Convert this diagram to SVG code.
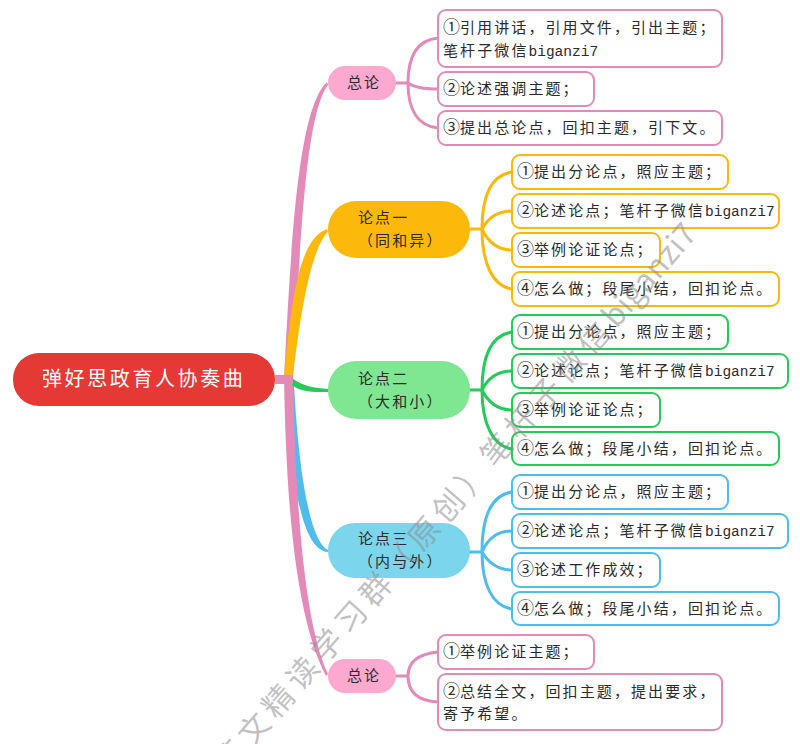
<svg xmlns="http://www.w3.org/2000/svg" width="800" height="744" viewBox="0 0 800 744">
<style>
text{font-family:"Liberation Mono","Noto Sans CJK SC",sans-serif;font-size:15px;letter-spacing:2.1px;fill:#2b2b2b}
.m{letter-spacing:0;font-size:14.5px}
.n{font-size:17px;letter-spacing:0}
.b{fill:#fff;stroke-width:2}
.pk{stroke:#e48ab9}.yl{stroke:#fdb90b}.gn{stroke:#25cb58}.bl{stroke:#4fbcee}
.c{fill:none;stroke-width:3;stroke-linecap:round}
.root{font-size:20px;letter-spacing:2.6px;fill:#fff}
.wm{font-size:31px;letter-spacing:6px;fill:#8c8c8c;fill-opacity:.55;font-family:"Noto Sans CJK SC",sans-serif;font-weight:400}
.wm tspan{letter-spacing:.5px}
</style>
<g id="connectors">
<path fill="#4fbcee" d="M294,384C298,460 308,540 328,550L328,552C300,550 290,470 286,384Z"/>
<path fill="#e48ab9" d="M284,378C291,250 297,110 327,82L328,85C305,115 300,250 293,378Z"/>
<path fill="#fdb90b" d="M284,376C292,300 298,240 327,229L328,231C312,250 302,300 293,376Z"/>
<path fill="#e48ab9" d="M284,378C286,480 292,610 326,676L328,674C302,620 295,480 293,378Z"/>
<path fill="#25cb58" d="M292,378C302,386 315,388 328,389L328,392C312,392 300,392 292,385Z"/>
<path fill="#e48ab9" d="M275,375H293V384H275Z"/>
<path class="c pk" d="M396,83H408M438,38C418,40 408,55 408,83C408,110 418,126 438,128M408,83C415,88 425,89 438,89"/>
<path class="c yl" d="M470,229H482M512,172C492,175 482,195 482,229C482,262 492,286 512,289M482,229C488,218 498,211 512,211M482,229C488,242 498,250 512,250"/>
<path class="c gn" d="M470,390H482M512,332C492,335 482,355 482,390C482,422 492,446 512,449M482,390C488,378 498,371 512,371M482,390C488,402 498,410 512,410"/>
<path class="c bl" d="M470,552H482M512,492C492,495 482,515 482,552C482,584 492,606 512,609M482,552C488,538 498,531 512,531M482,552C488,562 498,570 512,570"/>
<path class="c pk" d="M396,676H408M438,652C418,654 408,662 408,676C408,692 418,701 438,702"/>
</g>
<g id="root"><rect x="13" y="353" width="262" height="53" rx="26" fill="#e53935"/><text class="root" x="42" y="386">弹好思政育人协奏曲</text></g>
<g id="n1"><rect x="328" y="66" width="68" height="34" rx="17" fill="#fda8cf"/><text x="347" y="88">总论</text></g>
<g id="n1a"><rect class="b pk" x="438" y="10" width="284" height="57" rx="8"/><text x="443" y="33"><tspan class="n">①</tspan>引用讲话，引用文件，引出主题；</text><text x="443" y="56">笔杆子微信<tspan class="m">biganzi7</tspan></text></g>
<g id="n1b"><rect class="b pk" x="438" y="72" width="156" height="34" rx="8"/><text x="443" y="94"><tspan class="n">②</tspan>论述强调主题；</text></g>
<g id="n1c"><rect class="b pk" x="438" y="111" width="284" height="34" rx="8"/><text x="443" y="133"><tspan class="n">③</tspan>提出总论点，回扣主题，引下文。</text></g>
<g id="n2"><rect x="328" y="201" width="142" height="57" rx="28" fill="#fdb90b"/><text x="358" y="223">论点一</text><text x="358" y="246">（同和异）</text></g>
<g id="n2a"><rect class="b yl" x="512" y="155" width="216" height="34" rx="8"/><text x="517" y="177"><tspan class="n">①</tspan>提出分论点，照应主题；</text></g>
<g id="n2b"><rect class="b yl" x="512" y="194" width="267" height="34" rx="8"/><text x="517" y="216"><tspan class="n">②</tspan>论述论点；笔杆子微信<tspan class="m">biganzi7</tspan></text></g>
<g id="n2c"><rect class="b yl" x="512" y="233" width="148" height="34" rx="8"/><text x="517" y="255"><tspan class="n">③</tspan>举例论证论点；</text></g>
<g id="n2d"><rect class="b yl" x="512" y="272" width="267" height="34" rx="8"/><text x="517" y="294"><tspan class="n">④</tspan>怎么做；段尾小结，回扣论点。</text></g>
<g id="n3"><rect x="328" y="361" width="142" height="58" rx="28" fill="#7fe691"/><text x="358" y="384">论点二</text><text x="358" y="407">（大和小）</text></g>
<g id="n3a"><rect class="b gn" x="512" y="315" width="216" height="34" rx="8"/><text x="517" y="337"><tspan class="n">①</tspan>提出分论点，照应主题；</text></g>
<g id="n3b"><rect class="b gn" x="512" y="354" width="276" height="34" rx="8"/><text x="517" y="376"><tspan class="n">②</tspan>论述论点；笔杆子微信<tspan class="m">biganzi7</tspan></text></g>
<g id="n3c"><rect class="b gn" x="512" y="393" width="148" height="34" rx="8"/><text x="517" y="415"><tspan class="n">③</tspan>举例论证论点；</text></g>
<g id="n3d"><rect class="b gn" x="512" y="432" width="267" height="33" rx="8"/><text x="517" y="454"><tspan class="n">④</tspan>怎么做；段尾小结，回扣论点。</text></g>
<g id="n4"><rect x="328" y="523" width="142" height="55" rx="27" fill="#7bd6ed"/><text x="358" y="544">论点三</text><text x="358" y="567">（内与外）</text></g>
<g id="n4a"><rect class="b bl" x="512" y="475" width="216" height="34" rx="8"/><text x="517" y="497"><tspan class="n">①</tspan>提出分论点，照应主题；</text></g>
<g id="n4b"><rect class="b bl" x="512" y="514" width="276" height="34" rx="8"/><text x="517" y="536"><tspan class="n">②</tspan>论述论点；笔杆子微信<tspan class="m">biganzi7</tspan></text></g>
<g id="n4c"><rect class="b bl" x="512" y="553" width="148" height="34" rx="8"/><text x="517" y="575"><tspan class="n">③</tspan>论述工作成效；</text></g>
<g id="n4d"><rect class="b bl" x="512" y="592" width="267" height="33" rx="8"/><text x="517" y="614"><tspan class="n">④</tspan>怎么做；段尾小结，回扣论点。</text></g>
<g id="n5"><rect x="328" y="659" width="68" height="34" rx="17" fill="#fda8cf"/><text x="347" y="681">总论</text></g>
<g id="n5a"><rect class="b pk" x="438" y="635" width="156" height="34" rx="8"/><text x="443" y="657"><tspan class="n">①</tspan>举例论证主题；</text></g>
<g id="n5b"><rect class="b pk" x="438" y="674" width="284" height="56" rx="8"/><text x="443" y="697"><tspan class="n">②</tspan>总结全文，回扣主题，提出要求，</text><text x="443" y="719">寄予希望。</text></g>
<text class="wm" transform="translate(228,776) rotate(-49)">范文精读学习群（原创）笔杆子微信<tspan>biganzi7</tspan></text>
</svg>
